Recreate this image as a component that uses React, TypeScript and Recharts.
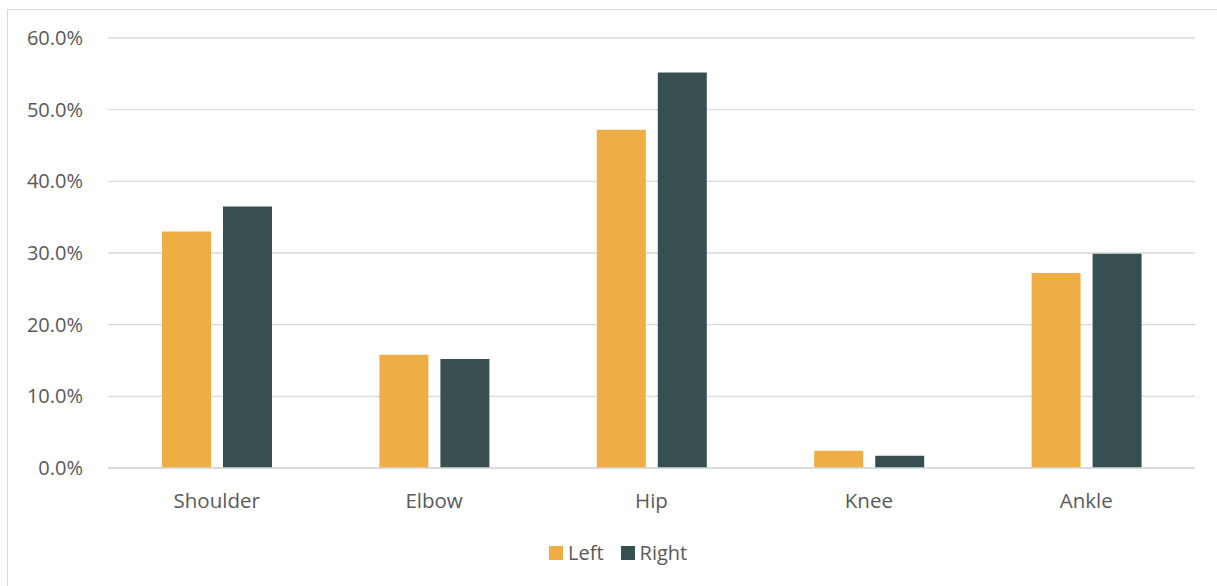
import React from "react";
import {
  BarChart,
  Bar,
  XAxis,
  YAxis,
  CartesianGrid,
} from "recharts";

const joints = ["Shoulder", "Elbow", "Hip", "Knee", "Ankle"];
const leftPct = [33.0, 15.8, 47.2, 2.4, 27.2];
const rightPct = [36.5, 15.2, 55.2, 1.7, 29.9];
const yTicks = [0, 10, 20, 30, 40, 50, 60];

const ORANGE = "#EFAE45";
const SLATE = "#374F50";
const TEXT = "#595959";
const GRID = "#D9D9D9";
const FONT = "'Open Sans', sans-serif";

const data = joints.map((name, i) => ({
  name,
  Left: leftPct[i],
  Right: rightPct[i],
}));

const series = [
  { key: "Left", color: ORANGE },
  { key: "Right", color: SLATE },
];

// legend sits below the plot, drawn as plain html
const LegendBox = () => (
  <div
    style={{
      position: "absolute",
      left: 549,
      top: 539,
      display: "flex",
      alignItems: "center",
      fontFamily: FONT,
      fontSize: 20,
      color: TEXT,
    }}
  >
    {series.map((s) => (
      <div key={s.key} style={{ display: "flex", alignItems: "center", marginRight: 17 }}>
        <span style={{ width: 14, height: 14, background: s.color, display: "inline-block", marginRight: 5 }} />
        <span>{s.key}</span>
      </div>
    ))}
  </div>
);

const App = () => {
  return (
    <div
      style={{
        position: "fixed",
        left: 0,
        top: 0,
        width: 1217,
        height: 586,
        background: "#fff",
        overflow: "hidden",
      }}
    >
      <div
        style={{
          position: "absolute",
          left: 7,
          top: 9,
          width: 1400,
          height: 800,
          border: `1px solid ${GRID}`,
        }}
      />
      <div style={{ position: "absolute", left: 0, top: 0 }}>
        <BarChart
          width={1217}
          height={586}
          data={data}
          margin={{ top: 38, right: 22, left: 8, bottom: 88 }}
          barGap={12}
        >
          <CartesianGrid vertical={false} stroke={GRID} strokeWidth={1.3} />
          <XAxis
            dataKey="name"
            height={30}
            axisLine={{ stroke: GRID, strokeWidth: 1.3 }}
            tickLine={false}
            tickSize={0}
            tickMargin={25}
            tick={{ fill: TEXT, fontSize: 20.5, fontFamily: FONT }}
          />
          <YAxis
            width={100}
            domain={[0, 60]}
            ticks={yTicks}
            axisLine={false}
            tickLine={false}
            tickSize={0}
            tickMargin={25}
            tickFormatter={(v: number) => `${v.toFixed(1)}%`}
            tick={{ fill: TEXT, fontSize: 20, fontFamily: FONT }}
          />
          {series.map((s) => (
            <Bar
              key={s.key}
              dataKey={s.key}
              fill={s.color}
              barSize={49}
              isAnimationActive={false}
            />
          ))}
        </BarChart>
      </div>
      <LegendBox />
    </div>
  );
};

export default App;
